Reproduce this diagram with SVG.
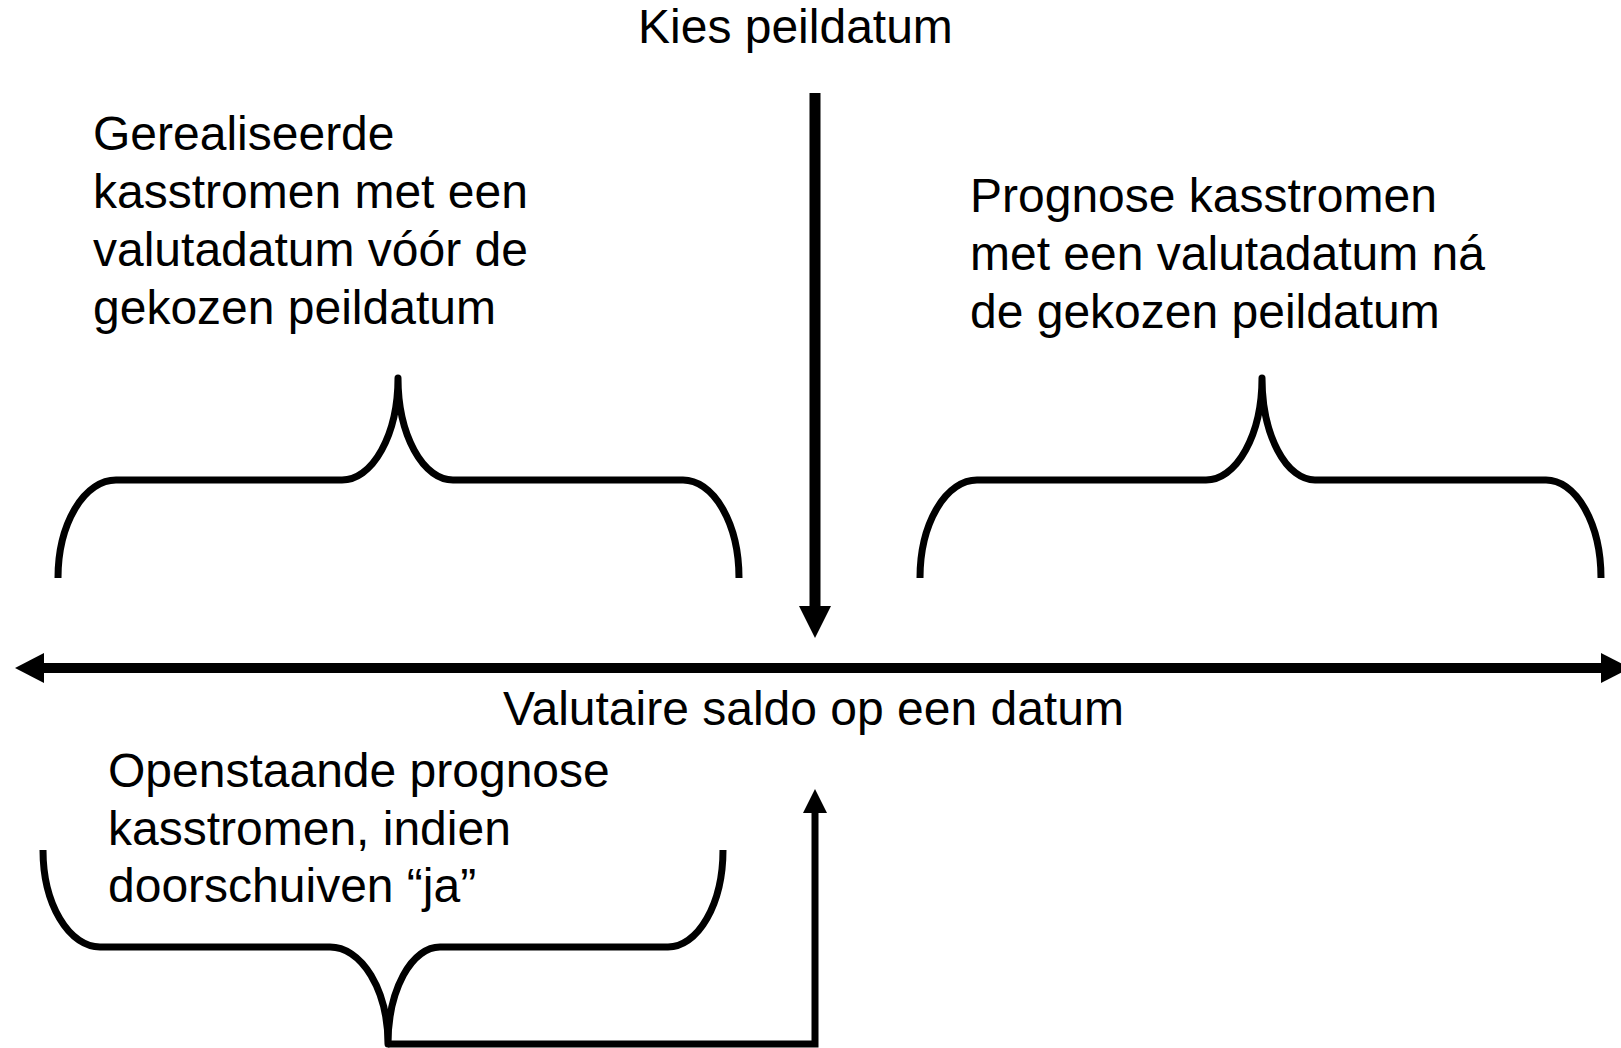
<svg xmlns="http://www.w3.org/2000/svg" width="1621" height="1048" viewBox="0 0 1621 1048">
<style>
.t{font-family:"Liberation Sans",Arial,sans-serif;font-size:48px;fill:#000}
.br{fill:none;stroke:#000;stroke-width:7;stroke-linejoin:round;stroke-linecap:butt}
.ln{fill:none;stroke:#000}
.ah{fill:#000;stroke:none}
</style>
<rect width="1621" height="1048" fill="#fff"/>
<g id="title">
<text class="t" x="638" y="43">Kies peildatum</text>
</g>
<g id="left-realised">
<text class="t" x="93" y="150">Gerealiseerde</text>
<text class="t" x="93" y="208">kasstromen met een</text>
<text class="t" x="93" y="266">valutadatum vóór de</text>
<text class="t" x="93" y="324">gekozen peildatum</text>
<path class="br" d="M58,578 A58 98 0 0 1 116,480 H342 A56 102 0 0 0 398,378 A55 102 0 0 0 453,480 H683 A56 98 0 0 1 739,578"/>
</g>
<g id="right-forecast">
<text class="t" x="970" y="212">Prognose kasstromen</text>
<text class="t" x="970" y="270">met een valutadatum ná</text>
<text class="t" x="970" y="328">de gekozen peildatum</text>
<path class="br" d="M920,578 A57 98 0 0 1 977,480 H1206 A56 102 0 0 0 1262,378 A53 102 0 0 0 1315,480 H1546 A55 98 0 0 1 1601,578"/>
</g>
<g id="timeline-label">
<text class="t" x="503" y="725">Valutaire saldo op een datum</text>
</g>
<g id="bottom-open">
<text class="t" x="108" y="787">Openstaande prognose</text>
<text class="t" x="108" y="845">kasstromen, indien</text>
<text class="t" x="108" y="902">doorschuiven “ja”</text>
<path class="br" d="M43,850 A57 97 0 0 0 100,947 H330 A58 97 0 0 1 388,1044 A52 97 0 0 1 440,947 H668 A55 97 0 0 0 723,850"/>
</g>
<g id="connectors">
<line class="ln" x1="815" y1="93" x2="815" y2="608" stroke-width="11"/>
<polygon class="ah" points="799,606 831,606 815,638"/>
<line class="ln" x1="40" y1="668" x2="1605" y2="668" stroke-width="10"/>
<polygon class="ah" points="44,653 15,668 44,683"/>
<polygon class="ah" points="1601,653 1630,668 1601,683"/>
<path class="ln" d="M388,1044 H815 V810" stroke-width="7"/>
<polygon class="ah" points="803,813 827,813 815,789"/>
</g>
</svg>
